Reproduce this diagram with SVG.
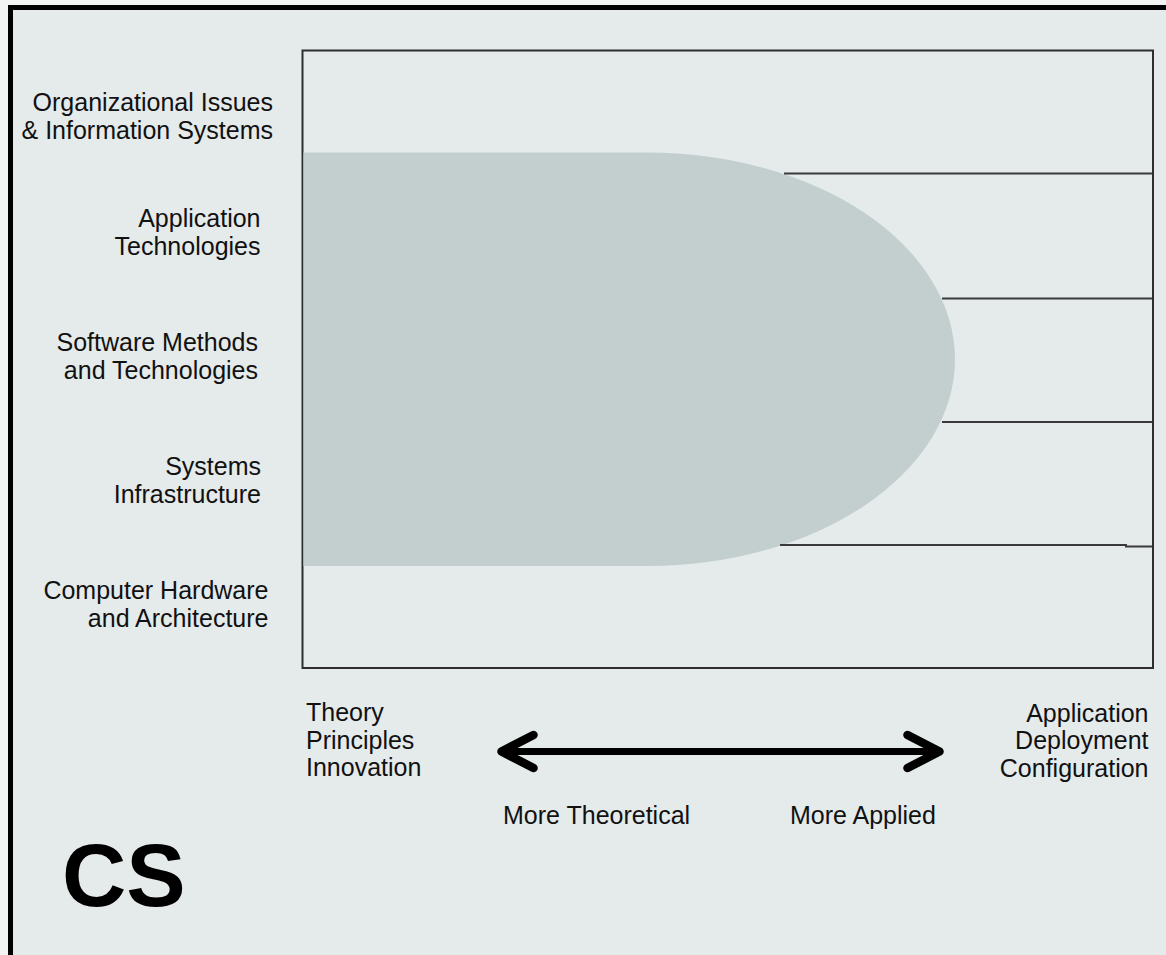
<svg xmlns="http://www.w3.org/2000/svg" width="1166" height="955" viewBox="0 0 1166 955">
  <defs>
    <style>
      .lbl { font-family: "Liberation Sans", Arial, sans-serif; font-size: 25px; fill: #111; }
      .end { text-anchor: end; }
      .rule { fill: none; stroke: #3a3a3a; stroke-width: 2; }
      .shaft { fill: none; stroke: #000; stroke-width: 7; }
    </style>
    <marker id="chevron" markerUnits="userSpaceOnUse" markerWidth="60" markerHeight="60"
            refX="0" refY="0" viewBox="-50 -30 60 60" orient="auto-start-reverse" overflow="visible">
      <path d="M-32,-16.5 L0,0 L-32,16.5" fill="none" stroke="#000" stroke-width="8.5"
            stroke-linecap="round" stroke-linejoin="round"/>
    </marker>
  </defs>

  <!-- page and frame -->
  <rect x="0" y="0" width="1166" height="955" fill="#f2f3f3"/>
  <rect x="10.5" y="7.5" width="1170" height="960" fill="#e5eaea" stroke="#000" stroke-width="5"/>

  <!-- chart area -->
  <g id="chart">
    <rect id="plot-frame" x="302.5" y="50.5" width="850.5" height="617.5" fill="#e5eaea" stroke="#2e2e2e" stroke-width="2"/>
    <path id="cs-region" d="M303.5,152.5 H647 A308,206.75 0 0 1 647,566 H303.5 Z" fill="#c3cfcf"/>
  </g>

  <!-- row dividers to the right of the region -->
  <g id="dividers">
    <path class="rule" d="M784,173.5 H1152"/>
    <path class="rule" d="M942,298.5 H1152"/>
    <path class="rule" d="M942,422 H1152"/>
    <path class="rule" d="M780,545 H1126 V546.5 H1152"/>
  </g>

  <!-- row labels -->
  <g id="row-org" class="lbl end">
    <text x="273" y="111.3">Organizational Issues</text>
    <text x="273" y="138.6">&amp; Information Systems</text>
  </g>
  <g id="row-apptech" class="lbl end">
    <text x="260.5" y="227">Application</text>
    <text x="260.5" y="254.5">Technologies</text>
  </g>
  <g id="row-software" class="lbl end">
    <text x="258" y="351">Software Methods</text>
    <text x="258" y="378.5">and Technologies</text>
  </g>
  <g id="row-infra" class="lbl end">
    <text x="261" y="475">Systems</text>
    <text x="261" y="502.5">Infrastructure</text>
  </g>
  <g id="row-hardware" class="lbl end">
    <text x="268.5" y="599.3">Computer Hardware</text>
    <text x="268.5" y="626.7">and Architecture</text>
  </g>

  <!-- axis ends -->
  <g id="axis-theory" class="lbl">
    <text x="306" y="721">Theory</text>
    <text x="306" y="748.5">Principles</text>
    <text x="306" y="776">Innovation</text>
  </g>
  <g id="axis-applied" class="lbl end">
    <text x="1148.5" y="721.5">Application</text>
    <text x="1148.5" y="749">Deployment</text>
    <text x="1148.5" y="776.5">Configuration</text>
  </g>

  <!-- double-headed axis arrow -->
  <g id="connectors">
    <path class="shaft" d="M501.5,751.5 H939.5" marker-start="url(#chevron)" marker-end="url(#chevron)"/>
  </g>

  <g id="axis-captions" class="lbl">
    <text x="503" y="823.5">More Theoretical</text>
    <text x="790" y="823.5">More Applied</text>
  </g>

  <g id="title">
    <text x="62" y="906" font-family="'Liberation Sans', Arial, sans-serif" font-size="89" font-weight="bold" fill="#000">CS</text>
  </g>
</svg>
